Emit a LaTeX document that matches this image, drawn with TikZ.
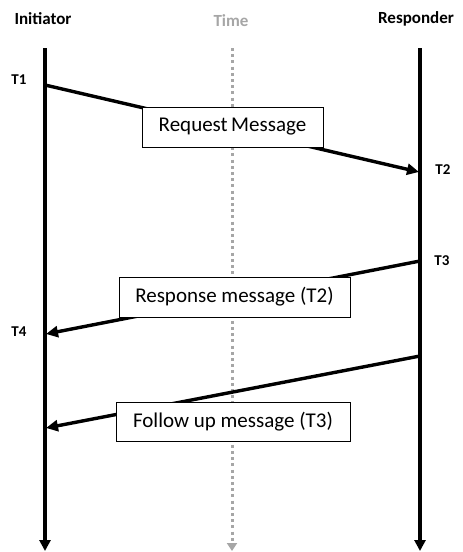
\documentclass[tikz,border=0pt]{standalone}
\usepackage{fontspec}
\setmainfont{Carlito}
\usetikzlibrary{arrows.meta}
\definecolor{timegray}{HTML}{A6A6A6}
\begin{document}
\begin{tikzpicture}[x=1pt,y=-1pt,
  lifeline/.style={line width=3.6pt,-{Triangle[length=11pt,width=11pt]}},
  timeline/.style={timegray,line width=3pt,dash pattern=on 3pt off 3.2pt,-{Triangle[length=8pt,width=10pt]}},
  msg/.style={line width=3.4pt,-{Triangle[length=12pt,width=11pt]}},
  msgbox/.style={draw,fill=white,line width=0.8pt,inner sep=0pt,font=\fontsize{21}{24}\selectfont},
  head/.style={font=\bfseries\fontsize{17}{20}\selectfont},
  stamp/.style={font=\bfseries\fontsize{15}{17}\selectfont}]
\useasboundingbox (0,0) rectangle (463,552);

% actor headings
\node[head] (ini) at (43,19) {Initiator};
\node[head,text=timegray] (time) at (231,21) {Time};
\node[head] (res) at (416,19) {Responder};

% lifelines
\coordinate (iniTop) at (45,48);
\coordinate (iniBot) at (45,551);
\coordinate (timeTop) at (232,48);
\coordinate (timeBot) at (232,551);
\coordinate (resTop) at (420,48);
\coordinate (resBot) at (420,551);
\draw[lifeline] (iniTop) -- (iniBot);
\draw[timeline] (timeTop) -- (timeBot);
\draw[lifeline] (resTop) -- (resBot);

% message end points
\coordinate (t1) at (45,85);
\coordinate (t2) at (419,172);
\coordinate (t3) at (420,261);
\coordinate (t4) at (46,334);
\coordinate (f1) at (420,356);
\coordinate (f2) at (46,428);

% messages
\draw[msg] (t1) -- (t2);
\draw[msg] (t3) -- (t4);
\draw[msg] (f1) -- (f2);

% message labels
\node[msgbox,minimum width=181pt,minimum height=40pt] (req) at (232.5,127) {Request\,Message};
\node[msgbox,minimum width=231pt,minimum height=40pt] (resp) at (234.5,297) {Response message (T2)};
\node[msgbox,minimum width=234pt,minimum height=39pt] (fol) at (233,421.5) {Follow up message (T3)};

% timestamps
\node[stamp] (T1) at (19,80) {T1};
\node[stamp] (T2) at (443,170) {T2};
\node[stamp] (T3) at (442,261) {T3};
\node[stamp] (T4) at (19,332) {T4};
\end{tikzpicture}
\end{document}
